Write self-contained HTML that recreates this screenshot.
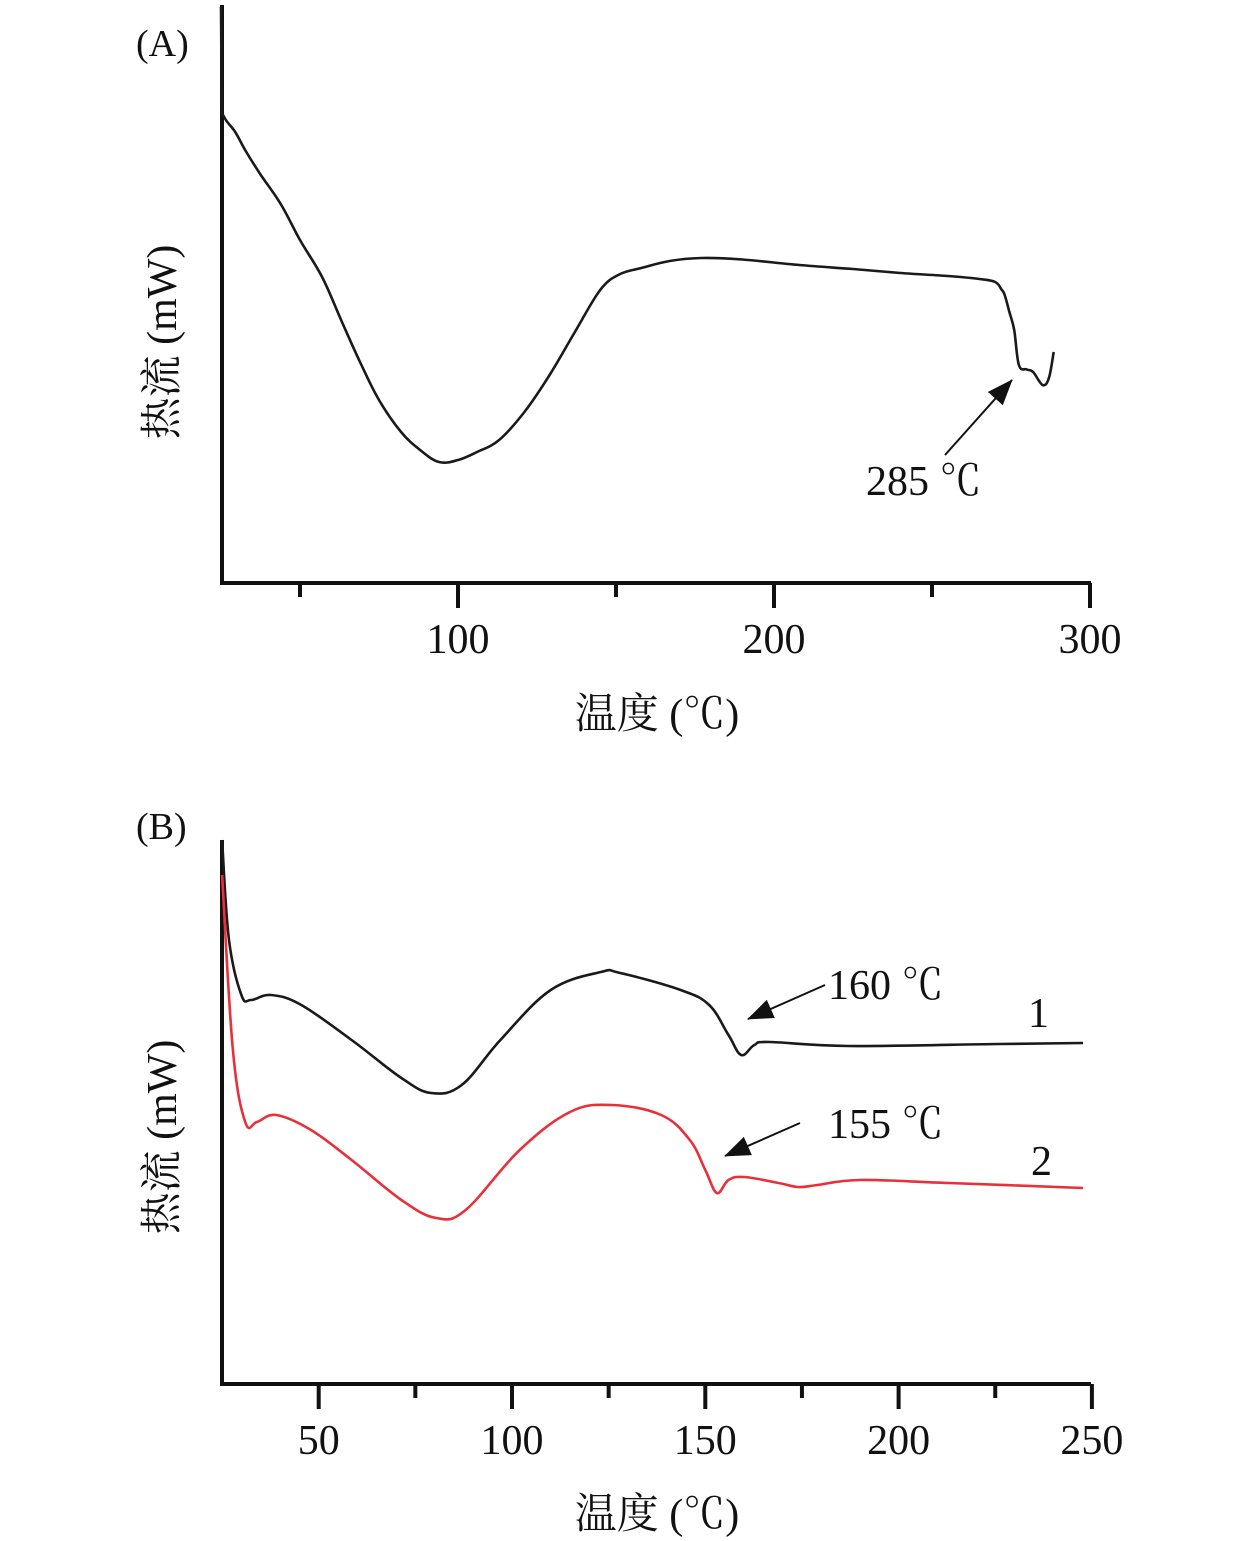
<!DOCTYPE html>
<html><head><meta charset="utf-8">
<style>
html,body{margin:0;padding:0;background:#fff;}
svg{display:block;}
text{font-family:"Liberation Serif","Noto Serif CJK SC",serif;fill:#111;}
</style></head>
<body>
<svg id="chart" width="1260" height="1541" viewBox="0 0 1260 1541">
<defs>
<marker id="ah" markerWidth="26" markerHeight="20" refX="25" refY="10" orient="auto" markerUnits="userSpaceOnUse">
<path d="M0,0 L26,10 L0,20 z" fill="#111"/></marker>
</defs>
<g id="panelA"></g>
<g id="panelB"></g>
<text x="136" y="56" font-size="38">(A)</text>
<text x="136" y="839" font-size="38">(B)</text>
<text x="657" y="728" font-size="42" text-anchor="middle">温度 (℃)</text>
<text x="657" y="1528" font-size="42" text-anchor="middle">温度 (℃)</text>
<text transform="translate(176,342) rotate(-90)" font-size="42" text-anchor="middle">热流 (mW)</text>
<text transform="translate(176,1137) rotate(-90)" font-size="42" text-anchor="middle">热流 (mW)</text>
<text x="866" y="495" font-size="42">285 ℃</text>
<line x1="945" y1="455" x2="1012" y2="380" stroke="#111" stroke-width="2" marker-end="url(#ah)"/>
<text x="828" y="999" font-size="42">160 ℃</text>
<line x1="825" y1="985" x2="748" y2="1019" stroke="#111" stroke-width="2" marker-end="url(#ah)"/>
<text x="1028" y="1027" font-size="42">1</text>
<text x="828" y="1138" font-size="42">155 ℃</text>
<line x1="800" y1="1123" x2="725" y2="1156" stroke="#111" stroke-width="2" marker-end="url(#ah)"/>
<text x="1031" y="1175" font-size="42">2</text>
</svg>
<script>
// Panel A data
const aTemps = [25,25.3,26,29.5,33,37.6,44,50,57,63,69,75,82,88,94,100,106,113,121,129,137,145,151,158,167,177,190,208,225,240,255,265,270,272,273,274.5,276,277.5,280,282,285,287,288.5];
const aFlow  = [115,96,93,90,86,81.4,75.5,68.4,61,52.4,44,36.4,30,26.4,24,24.4,26,28.4,34,41.4,50,58.4,61.5,62.8,64.2,64.8,64.5,63.4,62.6,61.8,61.2,60.6,60,58.5,57.4,54,50.4,43.4,42.5,42,39.4,40.8,46];
const aMajorTicks = [100,200,300];
const aMinorTicks = [50,150,250];
// Panel B data
const bTempsBlack = [25,26.8,30,32.5,37.7,45.5,58.5,71.4,79.1,87,97,110,123,128,143.6,151,156,159.3,162.7,166.6,187,226,247.7];
const bFlowBlack  = [108.6,88.6,77.6,76.6,77.6,75.6,68.6,61,58,59.6,68.6,78.6,82.2,82,78.6,75.6,69.6,65.6,67.6,68.2,67.4,67.8,68];
const bTempsRed = [25,27.8,31,34,39,48,58.5,71.4,80.4,88,102,115,125.7,138.6,146,150,153,156,160,169,174,179,190,213,247.7];
const bFlowRed  = [101.6,66.6,52.2,52.2,53.6,50.6,44.6,36.6,33,34.6,46.6,54.2,55.6,53.6,48.6,42.6,38,40.6,41.2,40,39.2,39.6,40.6,40,39];
const bMajorTicks = [50,100,150,200,250];
const bMinorTicks = [75,125,175,225];

const NS="http://www.w3.org/2000/svg";
function mk(tag,attrs,parent){const e=document.createElementNS(NS,tag);for(const k in attrs)e.setAttribute(k,attrs[k]);parent.appendChild(e);return e;}
function smoothPath(xs,ys,sx,sy){
  const p=xs.map((t,i)=>[sx(t),sy(ys[i])]);
  let d='M'+p[0][0].toFixed(1)+','+p[0][1].toFixed(1);
  const k=0.18;
  for(let i=0;i<p.length-1;i++){
    const p0=p[Math.max(i-1,0)],p1=p[i],p2=p[i+1],p3=p[Math.min(i+2,p.length-1)];
    const c1=[p1[0]+(p2[0]-p0[0])*k,p1[1]+(p2[1]-p0[1])*k];
    const c2=[p2[0]-(p3[0]-p1[0])*k,p2[1]-(p3[1]-p1[1])*k];
    d+=' C'+c1[0].toFixed(1)+','+c1[1].toFixed(1)+' '+c2[0].toFixed(1)+','+c2[1].toFixed(1)+' '+p2[0].toFixed(1)+','+p2[1].toFixed(1);
  }
  return d;
}

function drawAxes(g,sx,axisY,topY,major,minor,prefix){
  const ya=mk('line',{x1:222,y1:topY,x2:222,y2:axisY+2,stroke:'#111','stroke-width':4},g);
  
  
  const xa=mk('line',{x1:220,y1:axisY,x2:1091,y2:axisY,stroke:'#111','stroke-width':4},g);
  
  
  major.forEach(t=>{
    const l=mk('line',{x1:sx(t),y1:axisY,x2:sx(t),y2:axisY+25,stroke:'#111','stroke-width':4},g);
    
    
    const tx=mk('text',{x:sx(t),y:axisY+70,'font-size':42,'text-anchor':'middle'},g);
    tx.textContent=t;
    
    
  });
  minor.forEach(t=>{
    const l=mk('line',{x1:sx(t),y1:axisY,x2:sx(t),y2:axisY+14,stroke:'#111','stroke-width':4},g);
    
    
  });
}

// Panel A
(function(){
  const g=document.getElementById('panelA');
  const sx=t=>458+(t-100)*3.16;
  const sy=v=>582-v*5;
  drawAxes(g,sx,583,5,aMajorTicks,aMinorTicks,'panel-a');
  const p=mk('path',{d:smoothPath(aTemps,aFlow,sx,sy),fill:'none',stroke:'#1a1a1a','stroke-width':2.6,'stroke-linejoin':'round'},g);
  
  
})();

// Panel B
(function(){
  const g=document.getElementById('panelB');
  const sx=t=>512+(t-100)*3.866;
  const sy=v=>1383-v*5;
  drawAxes(g,sx,1384,840,bMajorTicks,bMinorTicks,'panel-b');
  const p1=mk('path',{d:smoothPath(bTempsBlack,bFlowBlack,sx,sy),fill:'none',stroke:'#1a1a1a','stroke-width':2.6,'stroke-linejoin':'round'},g);
  
  
  const p2=mk('path',{d:smoothPath(bTempsRed,bFlowRed,sx,sy),fill:'none',stroke:'#e8303a','stroke-width':2.6,'stroke-linejoin':'round'},g);
  
  
})();
</script>
</body></html>
